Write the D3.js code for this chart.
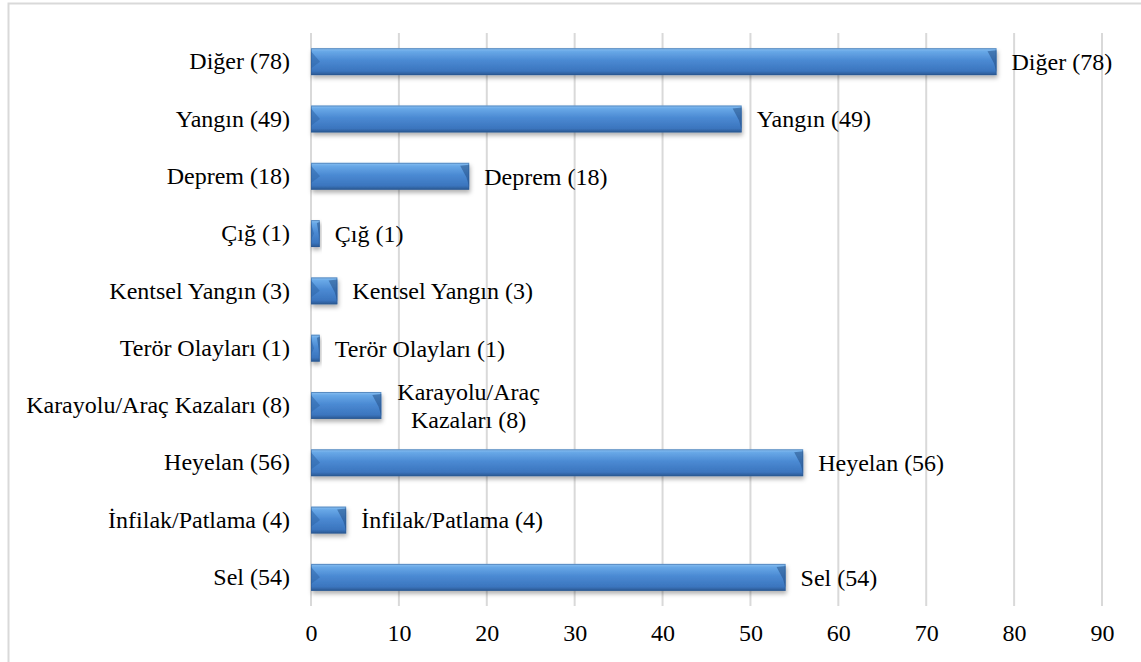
<!DOCTYPE html>
<html>
<head>
<meta charset="utf-8">
<script src="https://cdn.jsdelivr.net/npm/d3@7"></script>
<style>
  body { margin: 0; background: #fff; }
  svg text { font-family: "Liberation Serif", "Times New Roman", Times, serif; fill: #000; }
</style>
</head>
<body>
<div id="chart"></div>
<script>
// categories, top to bottom
var categories = ["Diğer", "Yangın", "Deprem", "Çığ", "Kentsel Yangın", "Terör Olayları",
  "Karayolu/Araç Kazaları", "Heyelan", "İnfilak/Patlama", "Sel"];
var values = [78, 49, 18, 1, 3, 1, 8, 56, 4, 54];
var xTicks = [0, 10, 20, 30, 40, 50, 60, 70, 80, 90];

var svgWidth = 1141;
var svgHeight = 662;
var fontFamily = "'Liberation Serif', 'Times New Roman', Times, serif";
var fontSize = "24px";

var data = categories.map(function(c, i) {
  return { name: c, value: values[i], label: c + " (" + values[i] + ")" };
});

var svg = d3.select("#chart")
  .append("svg")
  .attr("width", svgWidth)
  .attr("height", svgHeight);

var defs = svg.append("defs");

var grad = defs.append("linearGradient")
  .attr("id", "barGrad")
  .attr("x1", 0).attr("y1", 0).attr("x2", 0).attr("y2", 1);
[["0%", "#8cc2f2"], ["12%", "#68a8e7"], ["45%", "#4b8ad3"], ["85%", "#3b75be"], ["100%", "#2a5790"]]
  .forEach(function(s) { grad.append("stop").attr("offset", s[0]).attr("stop-color", s[1]); });

var shadow = defs.append("filter")
  .attr("id", "shadow")
  .attr("x", "-20%").attr("y", "-30%").attr("width", "140%").attr("height", "180%");
shadow.append("feDropShadow")
  .attr("dx", 1).attr("dy", 3)
  .attr("stdDeviation", 2)
  .attr("flood-color", "#000")
  .attr("flood-opacity", 0.3);

// outer frame
svg.append("rect")
  .attr("x", 8.5).attr("y", 3.5)
  .attr("width", 1200).attr("height", 700)
  .attr("fill", "none")
  .attr("stroke", "#d9d9d9")
  .attr("stroke-width", 2);

var xScale = d3.scaleLinear()
  .domain([0, 90])
  .range([311, 1102]);

var yScale = d3.scaleBand()
  .domain(categories)
  .range([33, 606])
  .paddingInner(0.53)
  .paddingOuter(0.265);

// gridlines
svg.append("g")
  .selectAll("line")
  .data(xTicks)
  .enter()
  .append("line")
  .attr("x1", d => xScale(d))
  .attr("x2", d => xScale(d))
  .attr("y1", 33)
  .attr("y2", 606)
  .attr("stroke", "#d9d9d9")
  .attr("stroke-width", 2);

// x axis labels
var bottomAxis = d3.axisBottom(xScale)
  .tickValues(xTicks)
  .tickSize(0)
  .tickPadding(0);

var xAxis = svg.append("g")
  .attr("transform", "translate(0, 624)")
  .call(bottomAxis)
  .attr("font-family", null)
  .attr("font-size", null);
xAxis.select(".domain").remove();
xAxis.selectAll("text")
  .style("font-family", fontFamily)
  .style("font-size", fontSize)
  .attr("fill", "#000")
  .attr("dy", "0.71em");

// y axis labels
var leftAxis = d3.axisLeft(yScale)
  .tickFormat((d, i) => data[i].label)
  .tickSize(0)
  .tickPadding(21);

var yAxis = svg.append("g")
  .attr("transform", "translate(311, 0)")
  .call(leftAxis)
  .attr("font-family", null)
  .attr("font-size", null);
yAxis.select(".domain").remove();
yAxis.selectAll("text")
  .style("font-family", fontFamily)
  .style("font-size", fontSize)
  .attr("fill", "#000");

// bars
var bars = svg.append("g")
  .selectAll("g")
  .data(data)
  .enter()
  .append("g")
  .attr("filter", "url(#shadow)");

bars.append("rect")
  .attr("x", xScale(0))
  .attr("y", d => yScale(d.name))
  .attr("width", d => xScale(d.value) - xScale(0))
  .attr("height", yScale.bandwidth())
  .attr("fill", "url(#barGrad)");

// bevel edges
function bevel(d) {
  var x0 = xScale(0), x1 = xScale(d.value);
  var y0 = yScale(d.name), h = yScale.bandwidth(), y1 = y0 + h;
  var b = Math.min(9, (x1 - x0) / 3);
  return { x0: x0, x1: x1, y0: y0, y1: y1, h: h, b: b };
}

bars.append("path")
  .attr("d", function(d) {
    var e = bevel(d);
    return "M" + e.x0 + "," + (e.y0 + 3) + "L" + (e.x0 + e.b) + "," + (e.y0 + e.h * 0.5) +
      "L" + e.x0 + "," + (e.y0 + e.h * 0.75) + "Z";
  })
  .attr("fill", "#2f66a8")
  .attr("opacity", 0.55);

bars.append("path")
  .attr("d", function(d) {
    var e = bevel(d);
    return "M" + e.x1 + "," + (e.y0 + 2) + "L" + (e.x1 - e.b) + "," + (e.y0 + 3) +
      "L" + (e.x1 - e.b * 0.3) + "," + (e.y0 + e.h * 0.55) + "L" + e.x1 + "," + (e.y1 - 3) + "Z";
  })
  .attr("fill", "#1f4a80")
  .attr("opacity", 0.5);

bars.append("rect")
  .attr("x", d => xScale(0) + 0.5)
  .attr("y", d => yScale(d.name) + 0.5)
  .attr("width", d => Math.max(0, xScale(d.value) - xScale(0) - 1))
  .attr("height", yScale.bandwidth() - 1)
  .attr("fill", "none")
  .attr("stroke", "#2b5a93")
  .attr("stroke-opacity", 0.5)
  .attr("stroke-width", 1);

// value labels, wrapped when too wide
var maxLabelWidth = 200;
var labels = svg.append("g")
  .selectAll("text")
  .data(data)
  .enter()
  .append("text")
  .style("font-family", fontFamily)
  .style("font-size", fontSize)
  .attr("x", d => xScale(d.value) + 15)
  .attr("y", d => yScale(d.name) + yScale.bandwidth() / 2)
  .attr("dy", "0.35em")
  .text(d => d.label);

labels.each(function(d) {
  var t = d3.select(this);
  if (this.getComputedTextLength() <= maxLabelWidth) return;
  var words = d.label.split(" ");
  var lines = [];
  var line = [];
  t.text(null);
  var probe = t.append("tspan");
  words.forEach(function(w) {
    line.push(w);
    probe.text(line.join(" "));
    if (probe.node().getComputedTextLength() > maxLabelWidth && line.length > 1) {
      line.pop();
      lines.push(line.join(" "));
      line = [w];
    }
  });
  lines.push(line.join(" "));
  probe.remove();
  var widest = 0;
  lines.forEach(function(l) {
    var s = t.append("tspan").text(l);
    widest = Math.max(widest, s.node().getComputedTextLength());
    s.remove();
  });
  var cx = xScale(d.value) + 16 + widest / 2;
  var cy = yScale(d.name) + yScale.bandwidth() / 2;
  var lh = 28;
  t.attr("text-anchor", "middle").attr("dy", null).attr("x", cx).attr("y", null);
  lines.forEach(function(l, i) {
    t.append("tspan")
      .attr("x", cx)
      .attr("y", cy + (i - (lines.length - 1) / 2) * lh)
      .attr("dy", "0.35em")
      .text(l);
  });
});
</script>
</body>
</html>
